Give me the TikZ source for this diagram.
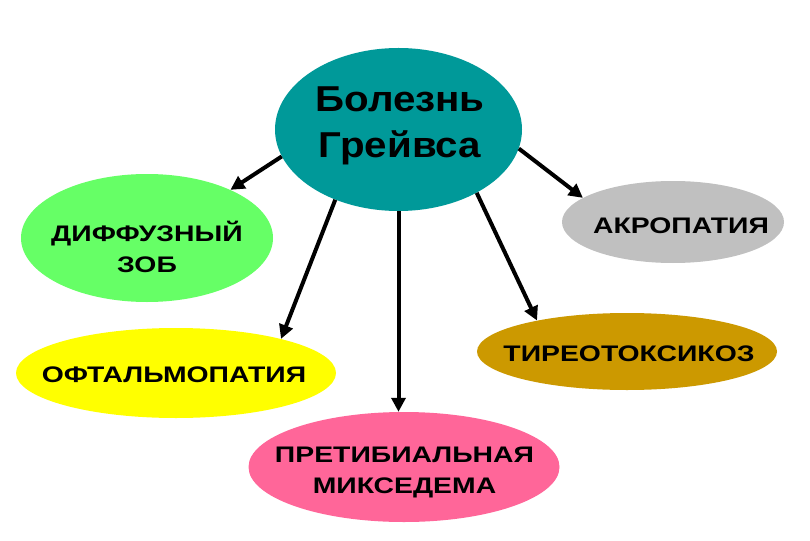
\documentclass[tikz,border=0pt]{standalone}
\usepackage{fontspec}
\setmainfont{Liberation Sans}
\newfontfamily\lblfont{Liberation Sans}[FakeStretch=1.26]
\newfontfamily\bigfont{Liberation Sans}[FakeStretch=1.12]
\usetikzlibrary{shapes.geometric,arrows.meta}
\definecolor{cteal}{HTML}{009999}
\definecolor{cgreen}{HTML}{66FF66}
\definecolor{cyellow}{HTML}{FFFF00}
\definecolor{cpink}{HTML}{FF6699}
\definecolor{cgold}{HTML}{CC9900}
\definecolor{cgray}{HTML}{C0C0C0}
\tikzset{
  blob/.style={ellipse, draw=none, inner sep=0pt},
  lbl/.style={font=\lblfont\bfseries\fontsize{22.5}{31}\selectfont, align=center, inner sep=0pt},
  biglbl/.style={font=\bigfont\bfseries\fontsize{36}{46}\selectfont, align=center, inner sep=0pt},
  arr/.style={line width=4pt, -{Triangle[length=14pt,width=14pt]}}
}
\begin{document}
\begin{tikzpicture}[x=1pt,y=-1pt]
\useasboundingbox[fill=white] (0,0) rectangle (810,540);
% ellipses
\node[blob, fill=cteal, minimum width=247pt, minimum height=163pt] (main) at (398.5,129.5) {};
\node[blob, fill=cgreen, minimum width=252pt, minimum height=128pt] (goiter) at (147,238) {};
\node[blob, fill=cyellow, minimum width=320pt, minimum height=90pt] (oph) at (176,373) {};
\node[blob, fill=cpink, minimum width=311pt, minimum height=110pt] (myx) at (404,467) {};
\node[blob, fill=cgold, minimum width=300pt, minimum height=77pt] (thyro) at (627,351.5) {};
\node[blob, fill=cgray, minimum width=222pt, minimum height=82pt] (acro) at (673,222) {};
% texts
\node[biglbl] (tmain) at (400,126) {Болезнь\\Грейвса};
\node[lbl] (tgoiter) at (147,247) {ДИФФУЗНЫЙ\\ЗОБ};
\node[lbl] (toph) at (174,375) {ОФТАЛЬМОПАТИЯ};
\node[lbl] (tmyx) at (404.5,472.5) {ПРЕТИБИАЛЬНАЯ\\МИКСЕДЕМА};
\node[lbl] (tthyro) at (629,354) {ТИРЕОТОКСИКОЗ};
\node[lbl] (tacro) at (681,225.5) {АКРОПАТИЯ};
% arrows
\draw[arr] (main.193) -- (goiter.30);
\draw[arr] (main.228) -- (oph.18);
\draw[arr] (main.south) -- (main.south |- myx.north);
\draw[arr] (main.321) -- (thyro.161);
\draw[arr] (main.351) -- (acro.165);
\end{tikzpicture}
\end{document}
